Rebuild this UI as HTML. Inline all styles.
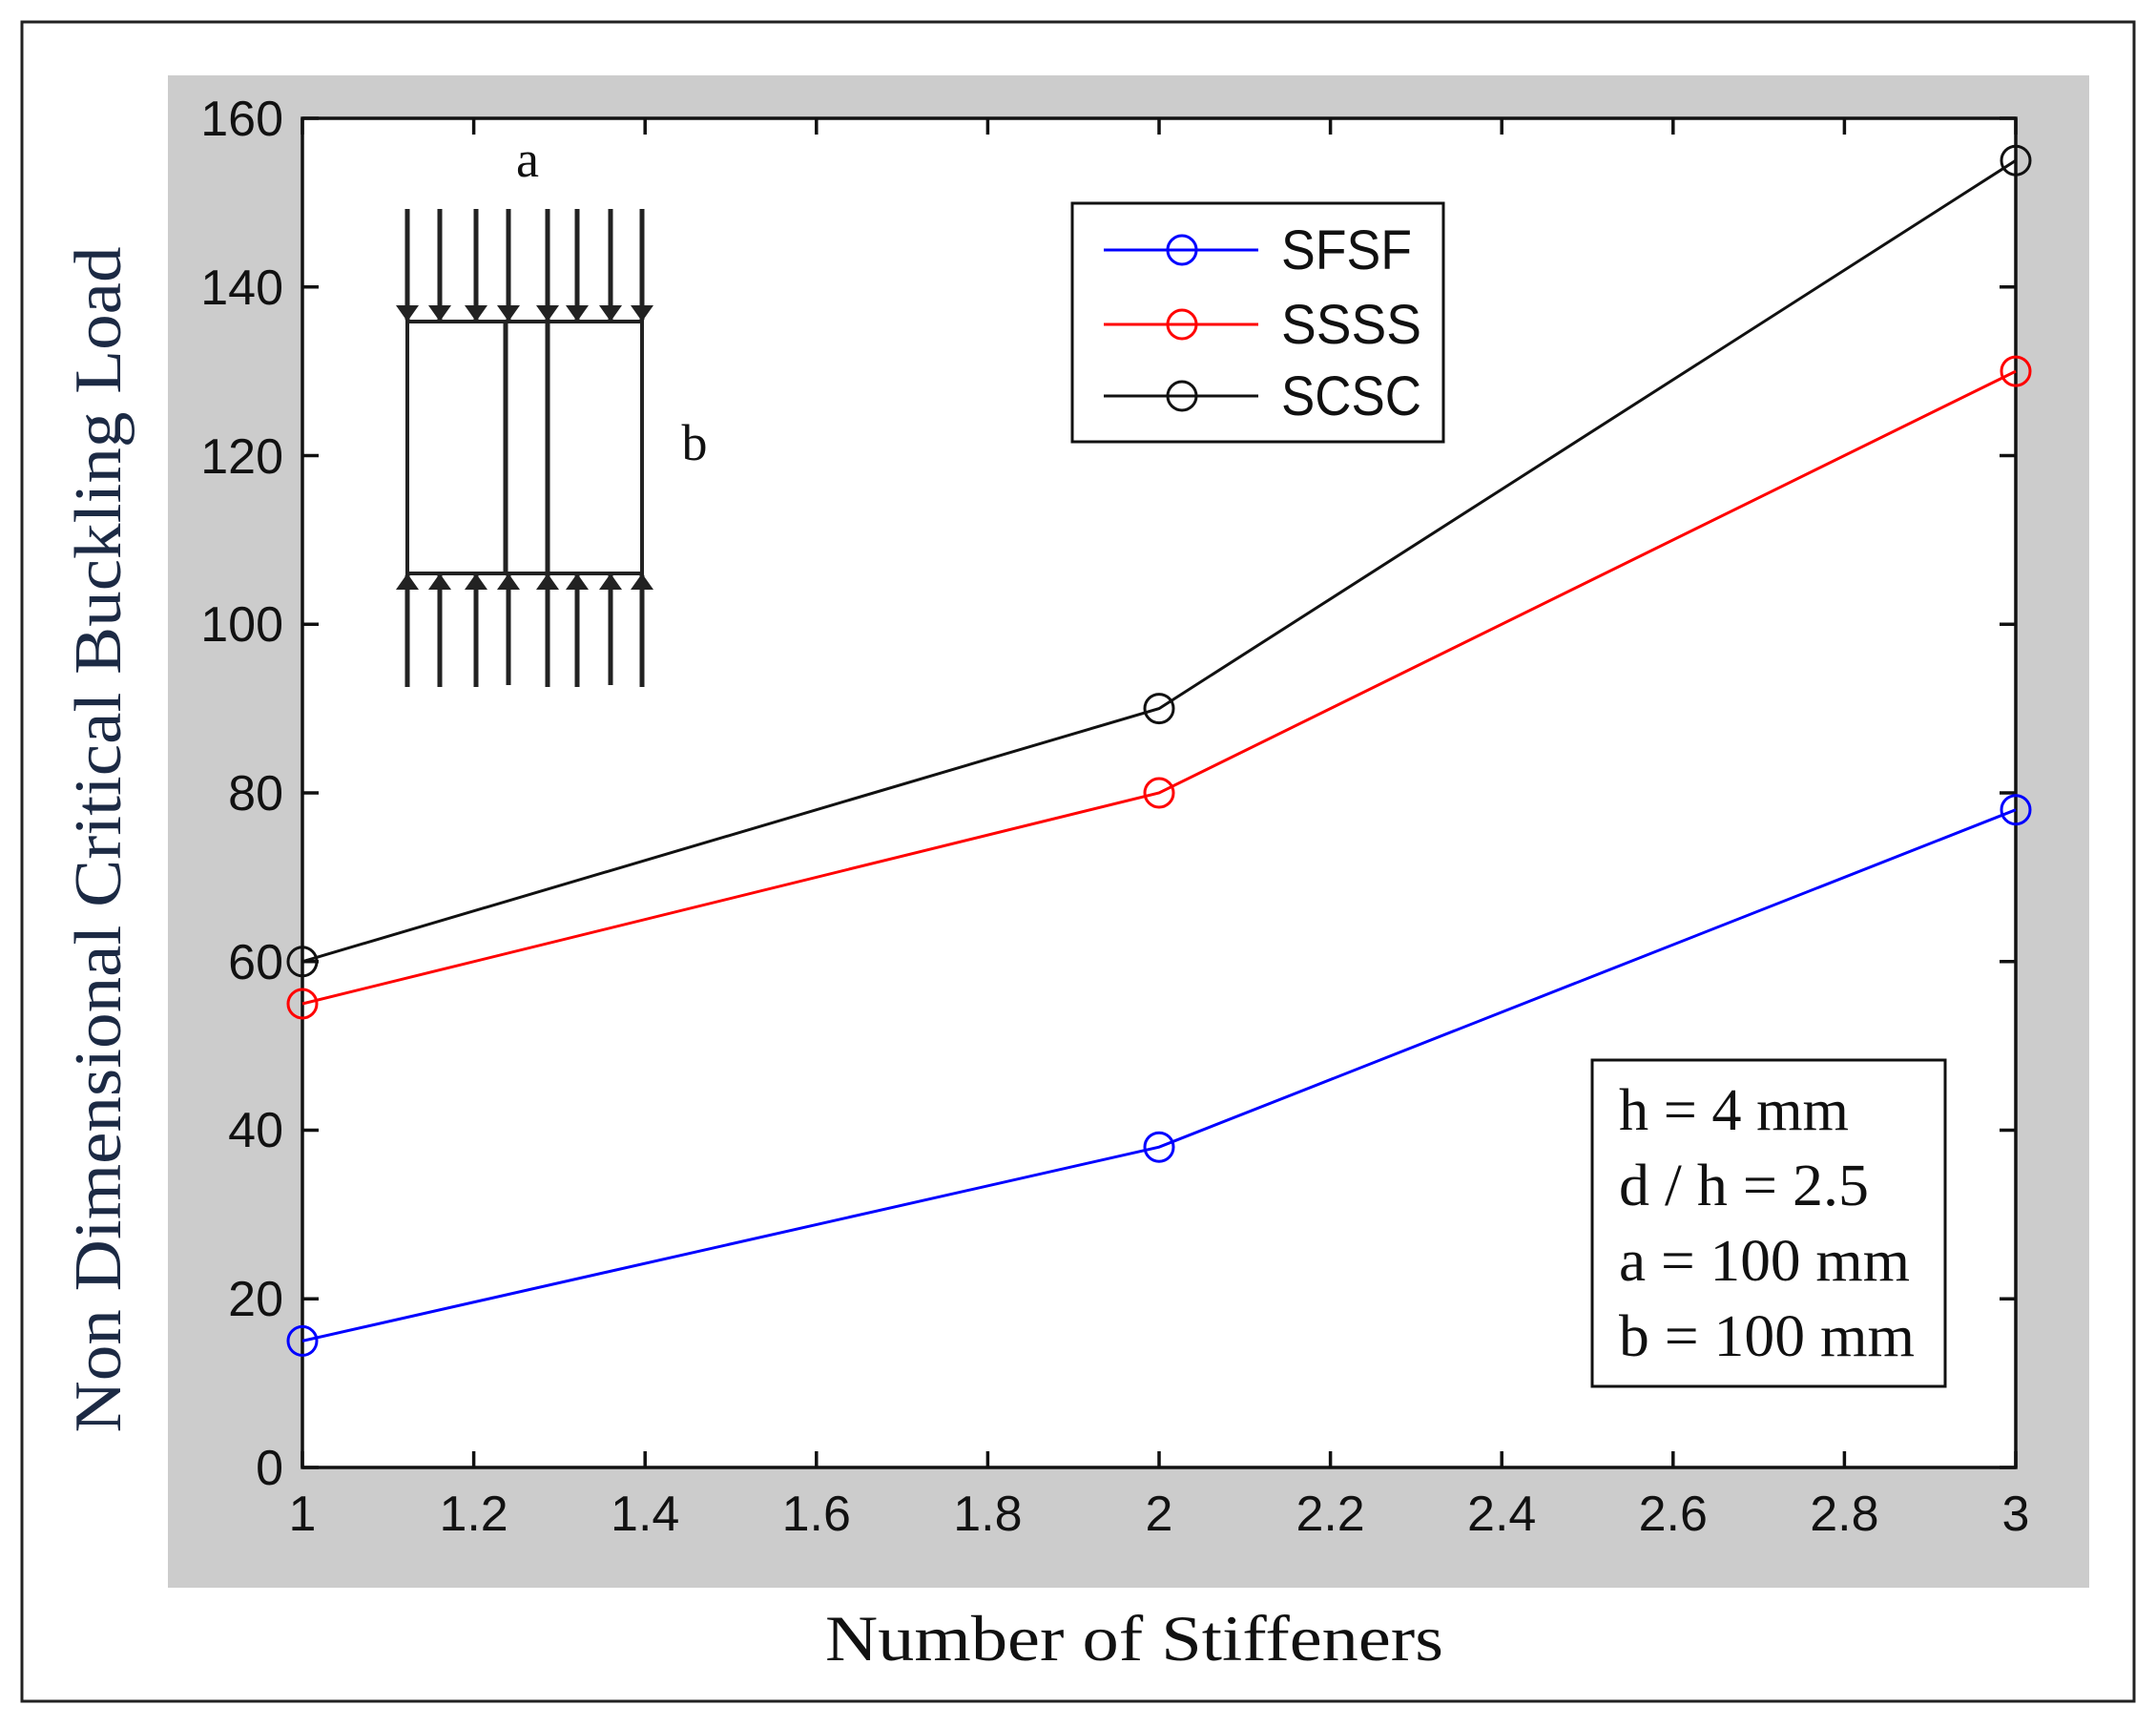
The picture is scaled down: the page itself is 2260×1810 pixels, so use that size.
<!DOCTYPE html>
<html><head><meta charset="utf-8"><style>html,body{margin:0;padding:0;background:#fff}</style></head>
<body>
<svg width="2260" height="1805" viewBox="0 0 2260 1805" xmlns="http://www.w3.org/2000/svg">
<rect x="0" y="0" width="2260" height="1805" fill="#fff"/>
<rect x="23" y="23" width="2214" height="1760" fill="none" stroke="#222" stroke-width="3"/>
<rect x="176" y="79" width="2014" height="1585" fill="#cccccc"/>
<rect x="317" y="124" width="1796" height="1414" fill="#fff" stroke="#111" stroke-width="3.5"/>
<g stroke="#111" stroke-width="3.5">
<path d="M317,1538v-17M496.6,1538v-17M676.2,1538v-17M855.8,1538v-17M1035.4,1538v-17M1215,1538v-17M1394.6,1538v-17M1574.2,1538v-17M1753.8,1538v-17M1933.4,1538v-17M2113,1538v-17"/>
<path d="M317,124v17M496.6,124v17M676.2,124v17M855.8,124v17M1035.4,124v17M1215,124v17M1394.6,124v17M1574.2,124v17M1753.8,124v17M1933.4,124v17M2113,124v17"/>
<path d="M317,1538h17M317,1361.25h17M317,1184.5h17M317,1007.75h17M317,831h17M317,654.25h17M317,477.5h17M317,300.75h17M317,124h17"/>
<path d="M2113,1538h-17M2113,1361.25h-17M2113,1184.5h-17M2113,1007.75h-17M2113,831h-17M2113,654.25h-17M2113,477.5h-17M2113,300.75h-17M2113,124h-17"/>
</g>
<g font-family="Liberation Sans Narrow, Liberation Sans, sans-serif" font-size="52" fill="#111" text-anchor="end">
<text x="297" y="1556">0</text><text x="297" y="1379">20</text><text x="297" y="1202">40</text><text x="297" y="1026">60</text><text x="297" y="849">80</text><text x="297" y="672">100</text><text x="297" y="496">120</text><text x="297" y="319">140</text><text x="297" y="142">160</text>
</g>
<g font-family="Liberation Sans Narrow, Liberation Sans, sans-serif" font-size="52" fill="#111" text-anchor="middle">
<text x="317" y="1604">1</text><text x="496.6" y="1604">1.2</text><text x="676.2" y="1604">1.4</text><text x="855.8" y="1604">1.6</text><text x="1035.4" y="1604">1.8</text><text x="1215" y="1604">2</text><text x="1394.6" y="1604">2.2</text><text x="1574.2" y="1604">2.4</text><text x="1753.8" y="1604">2.6</text><text x="1933.4" y="1604">2.8</text><text x="2113" y="1604">3</text>
</g>
<text x="1189" y="1740" font-family="Liberation Serif, serif" font-size="68" fill="#111" text-anchor="middle" textLength="648" lengthAdjust="spacingAndGlyphs">Number of Stiffeners</text>
<text transform="translate(126,880) rotate(-90)" font-family="Liberation Serif, serif" font-size="70" fill="#1c2a44" text-anchor="middle" textLength="1243" lengthAdjust="spacingAndGlyphs">Non Dimensional Critical Buckling Load</text>
<g fill="none" stroke-width="3">
<polyline points="317,1405.4 1215,1202.2 2113,848.7" stroke="#0000ff"/>
<circle cx="317" cy="1405.4" r="15" stroke="#0000ff"/><circle cx="1215" cy="1202.2" r="15" stroke="#0000ff"/><circle cx="2113" cy="848.7" r="15" stroke="#0000ff"/>
<polyline points="317,1052 1215,831 2113,389.1" stroke="#ff0000"/>
<circle cx="317" cy="1052" r="15" stroke="#ff0000"/><circle cx="1215" cy="831" r="15" stroke="#ff0000"/><circle cx="2113" cy="389.1" r="15" stroke="#ff0000"/>
<polyline points="317,1007.8 1215,742.6 2113,168.2" stroke="#111"/>
<circle cx="317" cy="1007.8" r="15" stroke="#111"/><circle cx="1215" cy="742.6" r="15" stroke="#111"/><circle cx="2113" cy="168.2" r="15" stroke="#111"/>
</g>
<rect x="1124" y="213" width="389" height="250" fill="#fff" stroke="#111" stroke-width="3"/>
<g fill="none" stroke-width="3">
<path d="M1157,262h162" stroke="#0000ff"/><circle cx="1239" cy="262" r="15" stroke="#0000ff"/>
<path d="M1157,340h162" stroke="#ff0000"/><circle cx="1239" cy="340" r="15" stroke="#ff0000"/>
<path d="M1157,415h162" stroke="#111"/><circle cx="1239" cy="415" r="15" stroke="#111"/>
</g>
<g font-family="Liberation Sans Narrow, Liberation Sans, sans-serif" font-size="58" fill="#111">
<text x="1343" y="282" textLength="137" lengthAdjust="spacingAndGlyphs">SFSF</text><text x="1343" y="360" textLength="147" lengthAdjust="spacingAndGlyphs">SSSS</text><text x="1343" y="435" textLength="147" lengthAdjust="spacingAndGlyphs">SCSC</text>
</g>
<rect x="1669" y="1111" width="370" height="342" fill="#fff" stroke="#111" stroke-width="3"/>
<g font-family="Liberation Serif, serif" font-size="62" fill="#111">
<text x="1697" y="1184" textLength="241" lengthAdjust="spacingAndGlyphs">h = 4 mm</text>
<text x="1697" y="1263" textLength="262" lengthAdjust="spacingAndGlyphs">d / h = 2.5</text>
<text x="1697" y="1342" textLength="305" lengthAdjust="spacingAndGlyphs">a = 100 mm</text>
<text x="1697" y="1421" textLength="310" lengthAdjust="spacingAndGlyphs">b = 100 mm</text>
</g>
<g stroke="#222" stroke-width="5" fill="none">
<rect x="427" y="337" width="246" height="264" stroke-width="4"/>
<path d="M530,337V601M574,337V601"/>
<path d="M427,219V335M461,219V335M499,219V335M533,219V335M574,219V335M605,219V335M640,219V335M673,219V335"/>
<path d="M427,603V720M461,603V720M499,603V720M533,603V718M574,603V720M605,603V720M640,603V718M673,603V720"/>
</g>
<g fill="#222">
<path d="M415,320l12,17l12,-17z M449,320l12,17l12,-17z M487,320l12,17l12,-17z M521,320l12,17l12,-17z M562,320l12,17l12,-17z M593,320l12,17l12,-17z M628,320l12,17l12,-17z M661,320l12,17l12,-17z"/>
<path d="M415,618l12,-17l12,17z M449,618l12,-17l12,17z M487,618l12,-17l12,17z M521,618l12,-17l12,17z M562,618l12,-17l12,17z M593,618l12,-17l12,17z M628,618l12,-17l12,17z M661,618l12,-17l12,17z"/>
</g>
<text x="553" y="185" font-family="Liberation Serif, serif" font-size="54" fill="#111" text-anchor="middle">a</text>
<text x="728" y="482" font-family="Liberation Serif, serif" font-size="54" fill="#111" text-anchor="middle">b</text>
</svg>
</body></html>
